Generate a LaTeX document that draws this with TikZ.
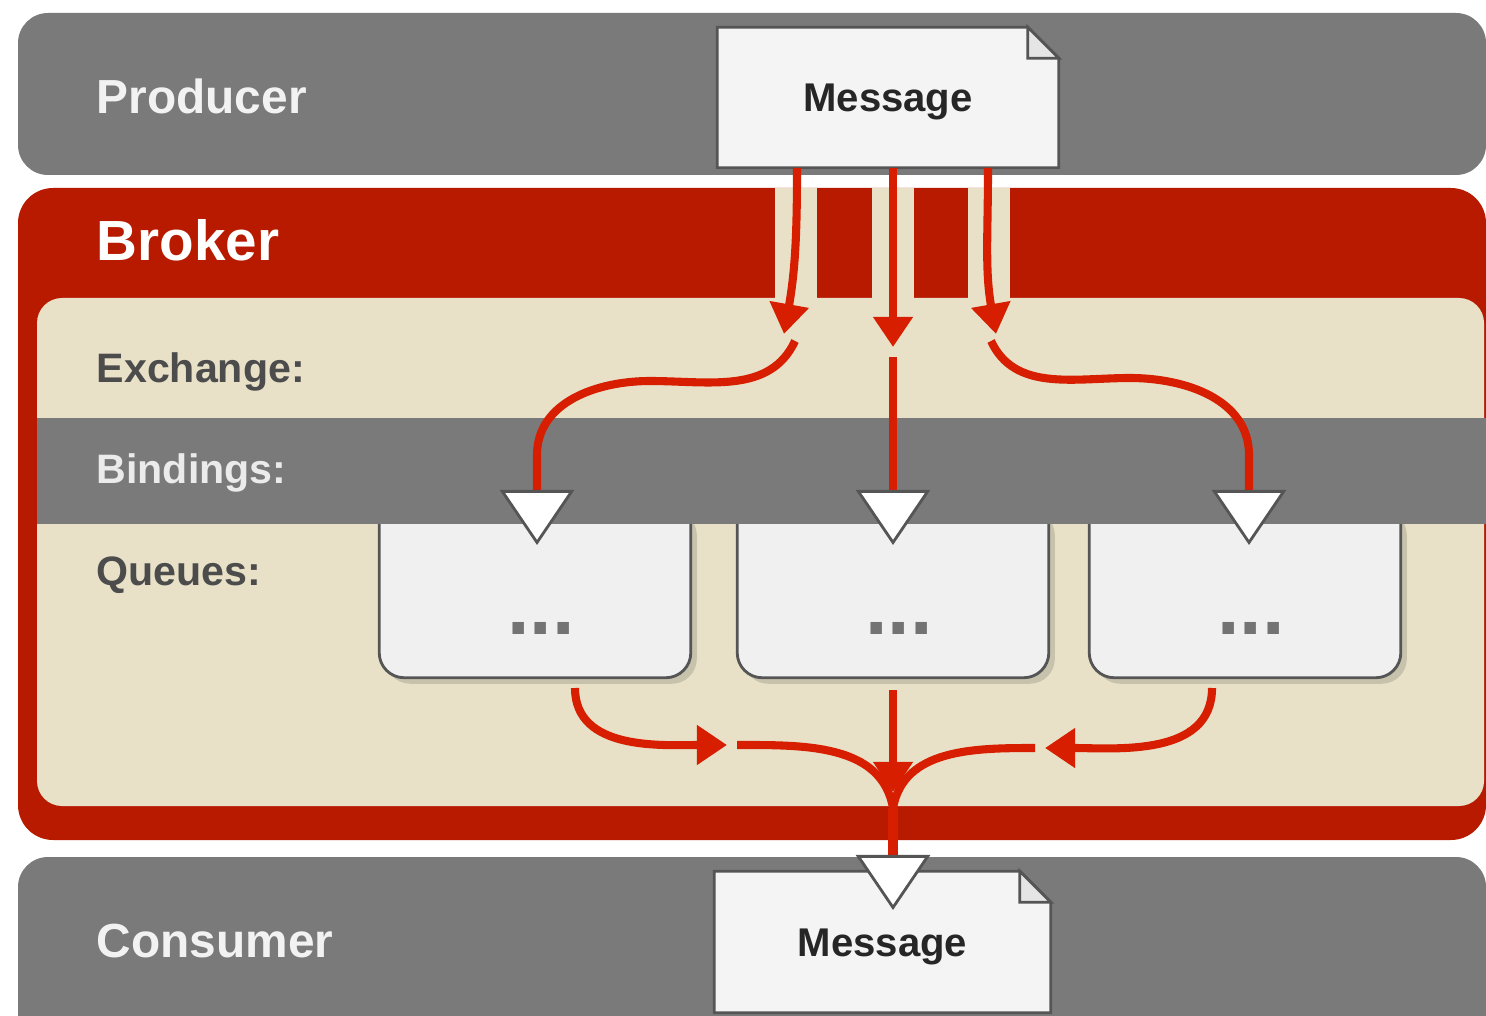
\documentclass[tikz,border=0pt]{standalone}
\usepackage{fontspec}
\setmainfont{Liberation Sans}
\usetikzlibrary{calc,arrows.meta}

\definecolor{bandgray}{HTML}{7A7A7A}
\definecolor{brokerred}{HTML}{B81A00}
\definecolor{flowred}{HTML}{D71E00}
\definecolor{panelcream}{HTML}{E8E1C8}
\definecolor{queuefill}{HTML}{F0F0F0}
\definecolor{msgfill}{HTML}{F4F4F4}
\definecolor{edgegray}{HTML}{555555}
\definecolor{labelgray}{HTML}{4C4C4C}

\tikzset{
  bandfill/.style={fill=bandgray},
  flowline/.style={draw=flowred, line width=2.3pt},
  flowtip/.style={flowline, -{Triangle[length=0.3cm,width=0.38cm]}},
  bigtip/.style={flowline, -{Triangle[length=0.55cm,width=0.74cm,fill=white,color=edgegray,line width'=0.8pt]}},
  lbl/.style={anchor=base west, inner sep=0pt, font=\bfseries\fontsize{13.6}{16}\selectfont, text=white!95!black},
  sublbl/.style={lbl, font=\bfseries\fontsize{11.7}{14}\selectfont, text=labelgray},
  msgframe/.style={minimum width=3.4cm, minimum height=1.39cm, inner sep=0pt},
  msgtext/.style={anchor=base, inner sep=0pt, font=\bfseries\fontsize{11.4}{14}\selectfont, text=black!85},
  queuebox/.style={minimum width=3.1cm, minimum height=1.72cm, inner sep=0pt},
  queuedots/.style={inner sep=0pt, font=\bfseries\fontsize{23}{23}\selectfont, text=black!55},
}

% message sheet with a folded corner
\newcommand{\drawmsg}[1]{%
  \filldraw[fill=msgfill, draw=edgegray, line width=0.8pt]
    (#1.north west) -- ($(#1.north east)+(-31,0)$) -- ($(#1.north east)+(0,-31)$)
    -- (#1.south east) -- (#1.south west) -- cycle;
  \filldraw[fill=white!90!black, draw=edgegray, line width=0.8pt]
    ($(#1.north east)+(-31,0)$) -- ($(#1.north east)+(-31,-31)$) -- ($(#1.north east)+(0,-31)$) -- cycle;
}
% queue box, open at the top
\newcommand{\drawqueue}[1]{%
  \fill[panelcream!86!black, rounded corners=0.25cm]
    ($(#1.north west)+(6,-6)$) rectangle ($(#1.south east)+(6,-6)$);
  \fill[queuefill, rounded corners=0.25cm] (#1.north west) rectangle (#1.south east);
  \draw[edgegray, line width=0.8pt, rounded corners=0.25cm]
    (#1.north west) -- (#1.south west) -- (#1.south east) -- (#1.north east);
}

\begin{document}
\begin{tikzpicture}[x=0.01cm, y=0.01cm]
  \path[use as bounding box] (0,0) rectangle (1486,-1016);
  \clip (0,0) rectangle (1486,-1016);

  % bands
  \fill[bandfill, rounded corners=0.3cm] (18,-13) rectangle (1486,-175);
  \fill[brokerred, rounded corners=0.35cm] (18,-188) rectangle (1486,-840);
  \fill[panelcream, rounded corners=0.25cm] (37,-298) rectangle (1484,-806);
  \foreach \x in {775,872,968}
    \fill[panelcream] (\x,-188) rectangle (\x+42,-300);
  \fill[bandfill, rounded corners=0.3cm] (18,-857) rectangle (1486,-1080);

  % queues
  \node[queuebox] (q1) at (535,-591) {};
  \node[queuebox] (q2) at (893,-591) {};
  \node[queuebox] (q3) at (1245,-591) {};
  \foreach \q in {q1,q2,q3} {
    \drawqueue{\q}
    \node[queuedots] (\q dots) at ($(\q.center)+(6,-37)$) {...};
  }
  \fill[bandfill] (37,-418) rectangle (1486,-524);

  % messages
  \node[msgframe] (msgin) at (888,-97.5) {};
  \drawmsg{msgin}
  \node[msgtext] (msgintext) at (888,-112) {Message};
  \node[msgframe, minimum width=3.35cm, minimum height=1.4cm] (msgout) at (882.5,-942) {};
  \drawmsg{msgout}
  \node[msgtext] (msgouttext) at (882.5,-956) {Message};

  % labels
  \node[lbl] (producer) at (96,-114) {Producer};
  \node[lbl, font=\bfseries\fontsize{16.1}{19}\selectfont, text=white] (broker) at (96,-261) {Broker};
  \node[sublbl] (exchange) at (96,-383) {Exchange:};
  \node[sublbl, text=white!92!black] (bindings) at (96,-483) {Bindings:};
  \node[sublbl] (queues) at (96,-585) {Queues:};
  \node[lbl] (consumer) at (96,-957) {Consumer};

  % flow points
  \coordinate (out1) at (797,-168);
  \coordinate (out2) at (893,-168);
  \coordinate (out3) at (988,-168);
  \coordinate (ex1in) at (784,-334);
  \coordinate (ex2in) at (893,-347);
  \coordinate (ex3in) at (996,-334);
  \coordinate (ex1) at (795,-341);
  \coordinate (ex2) at (893,-357);
  \coordinate (ex3) at (991,-341);
  \coordinate (bend1) at (650,-381);
  \coordinate (bend3) at (1130,-378);
  \coordinate (bd1) at (537,-545);
  \coordinate (bd2) at (893,-545);
  \coordinate (bd3) at (1249,-545);
  \coordinate (qo1) at (575,-688);
  \coordinate (qo2) at (893,-690);
  \coordinate (qo3) at (1212,-688);
  \coordinate (mg1in) at (727,-745);
  \coordinate (mg2in) at (893,-792);
  \coordinate (mg3in) at (1045,-748);
  \coordinate (mg1) at (737,-745);
  \coordinate (mg3) at (1035,-748);
  \coordinate (merge) at (893,-808);
  \coordinate (cons) at (893,-910);

  % producer -> exchange
  \draw[flowtip] (out1) to[out=-90, in=80] (ex1in);
  \draw[flowtip] (out2) -- (ex2in);
  \draw[flowtip] (out3) to[out=-90, in=100] (ex3in);

  % exchange -> bindings
  \draw[bigtip] (ex1) to[out=-115, in=0] (bend1) to[out=180, in=90] ($(bd1)+(0,90)$) -- (bd1);
  \draw[bigtip] (ex2) -- (bd2);
  \draw[bigtip] (ex3) to[out=-65, in=180] (bend3) to[out=0, in=90] ($(bd3)+(0,90)$) -- (bd3);

  % queues -> consumer
  \draw[flowtip] (qo1) to[out=-90, in=180] (mg1in);
  \draw[flowtip] (qo2) -- (mg2in);
  \draw[flowtip] (qo3) to[out=-90, in=0] (mg3in);
  \draw[flowline] (mg1) to[out=0, in=100] (merge);
  \draw[flowline] (mg3) to[out=180, in=80] (merge);
  \draw[bigtip, line width=3pt] (merge) -- (cons);
\end{tikzpicture}
\end{document}
